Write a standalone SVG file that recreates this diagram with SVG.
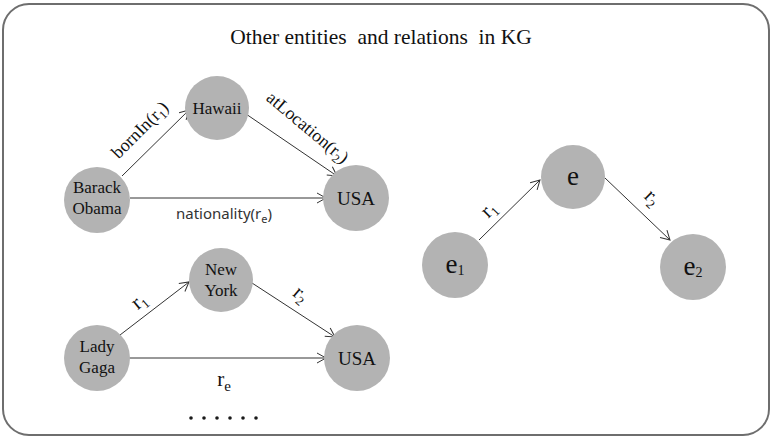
<svg xmlns="http://www.w3.org/2000/svg" width="772" height="438" viewBox="0 0 772 438">
  <style>
    .node { fill: #b3b3b3; }
    .lbl { font-family: "Liberation Serif", "Times New Roman", serif; font-size: 17px; fill: #111; text-anchor: middle; }
    .big { font-size: 27px; }
    .edge { stroke: #333; stroke-width: 1; fill: none; marker-end: url(#arr); }
    .sans { font-family: "Noto Sans", "DejaVu Sans", sans-serif; font-size: 15px; fill: #333; text-anchor: middle; }
    .rel { font-family: "Liberation Serif", "Times New Roman", serif; font-size: 18px; fill: #111; text-anchor: middle; }
    .rs { font-size: 21px; }
  </style>
  <defs>
    <marker id="arr" markerWidth="12" markerHeight="12" refX="10" refY="6" orient="auto" markerUnits="userSpaceOnUse">
      <path d="M1,1 L10,6 L1,11" fill="none" stroke="#333" stroke-width="1"/>
    </marker>
  </defs>

  <rect x="3" y="4" width="766" height="431" rx="26" ry="26" fill="#fff" stroke="#6e6e6e" stroke-width="2"/>
  <text x="381" y="44" class="lbl" style="font-size:21.5px" xml:space="preserve">Other entities  and relations  in KG</text>

  <g id="connectors">
    <line class="edge" x1="122" y1="176" x2="189" y2="110"/>
    <line class="edge" x1="246" y1="114" x2="337" y2="176"/>
    <line class="edge" x1="130" y1="198" x2="326" y2="198"/>
    <line class="edge" x1="120" y1="335" x2="189" y2="282"/>
    <line class="edge" x1="252" y1="283" x2="335" y2="337"/>
    <line class="edge" x1="129" y1="358" x2="326" y2="358"/>
    <line class="edge" x1="479" y1="240" x2="540" y2="180"/>
    <line class="edge" x1="605" y1="178" x2="670" y2="240"/>
  </g>

  <g id="edge-labels">
    <text class="rel" transform="translate(144,134) rotate(-45)">bornIn(r<tspan font-size="12" dy="4">1</tspan><tspan dy="-4">)</tspan></text>
    <text class="rel" transform="translate(304,132) rotate(40)">atLocation(r<tspan font-size="12" dy="4">2</tspan><tspan dy="-4">)</tspan></text>
    <text class="sans" x="224" y="219">nationality(r<tspan font-size="11" dy="4">e</tspan><tspan dy="-4">)</tspan></text>
    <text class="rel rs" transform="translate(143,306) rotate(-40)">r<tspan font-size="13" dy="4">1</tspan></text>
    <text class="rel rs" transform="translate(297,299) rotate(40)">r<tspan font-size="13" dy="4">2</tspan></text>
    <text class="rel rs" x="224" y="386">r<tspan font-size="15" dy="5">e</tspan></text>
    <text class="rel rs" transform="translate(493,214) rotate(-45)">r<tspan font-size="13" dy="4">1</tspan></text>
    <text class="rel rs" transform="translate(648,202) rotate(45)">r<tspan font-size="13" dy="4">2</tspan></text>
  </g>

  <g id="node-barack">
    <circle class="node" cx="97" cy="200" r="33"/>
    <text class="lbl" x="97" y="193">Barack</text>
    <text class="lbl" x="97" y="214">Obama</text>
  </g>
  <g id="node-hawaii">
    <circle class="node" cx="217" cy="108" r="32"/>
    <text class="lbl" x="217" y="114">Hawaii</text>
  </g>
  <g id="node-usa1">
    <circle class="node" cx="356" cy="198" r="33"/>
    <text class="lbl" style="font-size:19px" x="356" y="205">USA</text>
  </g>
  <g id="node-gaga">
    <circle class="node" cx="97" cy="358" r="33"/>
    <text class="lbl" x="97" y="352">Lady</text>
    <text class="lbl" x="97" y="373">Gaga</text>
  </g>
  <g id="node-newyork">
    <circle class="node" cx="221" cy="280" r="32"/>
    <text class="lbl" x="221" y="275">New</text>
    <text class="lbl" x="221" y="296">York</text>
  </g>
  <g id="node-usa2">
    <circle class="node" cx="357" cy="358" r="33"/>
    <text class="lbl" style="font-size:19px" x="357" y="365">USA</text>
  </g>
  <g id="node-e1">
    <circle class="node" cx="455" cy="265" r="33"/>
    <text class="lbl big" x="455" y="273">e<tspan font-size="14" dy="2">1</tspan></text>
  </g>
  <g id="node-e">
    <circle class="node" cx="573" cy="177" r="32"/>
    <text class="lbl big" x="573" y="185">e</text>
  </g>
  <g id="node-e2">
    <circle class="node" cx="693" cy="267" r="33"/>
    <text class="lbl big" x="693" y="275">e<tspan font-size="14" dy="2">2</tspan></text>
  </g>

  <g id="ellipsis" fill="#1a1a1a">
    <circle cx="191" cy="418" r="1.8"/>
    <circle cx="204" cy="418" r="1.8"/>
    <circle cx="217" cy="418" r="1.8"/>
    <circle cx="230" cy="418" r="1.8"/>
    <circle cx="243" cy="418" r="1.8"/>
    <circle cx="256" cy="418" r="1.8"/>
  </g>
</svg>
